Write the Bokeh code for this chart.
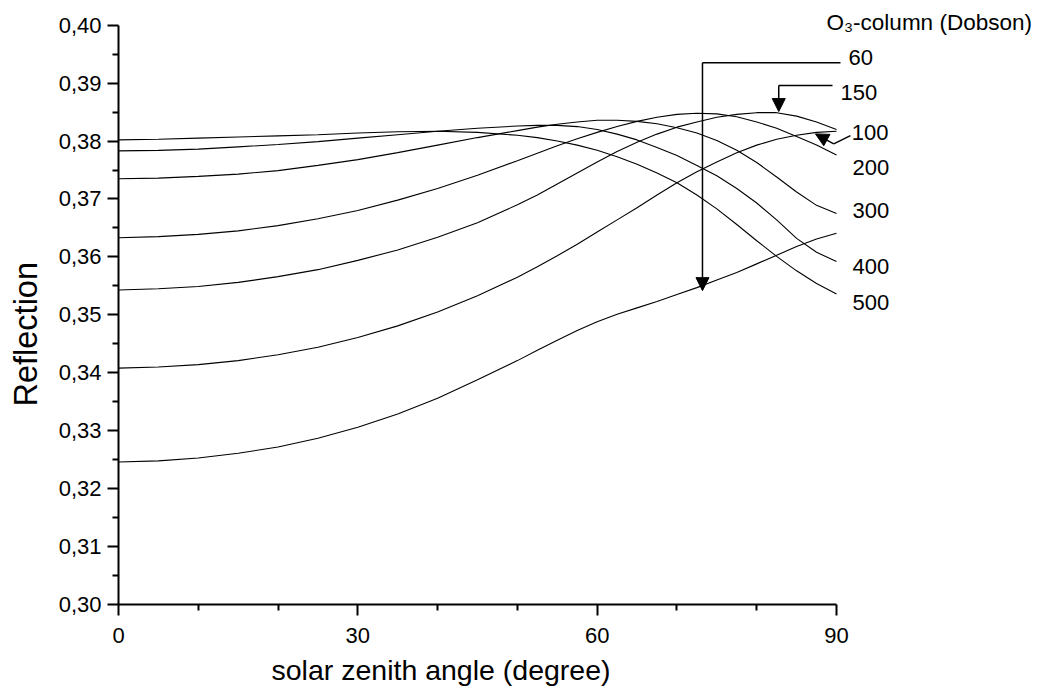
from bokeh.plotting import figure
from bokeh.models import (Range1d, FixedTicker, CustomJSTickFormatter, Label,
                          Arrow, NormalHead, Title)
from bokeh.embed import file_html
from bokeh.resources import INLINE

# ---------------- data ----------------
angles = [0, 5, 10, 15, 20, 25, 30, 35, 40, 45,
          50, 52.5, 55, 57.5, 60, 62.5, 65, 67.5, 70, 72.5, 75, 77.5, 80, 82.5, 85, 87.5, 90]

refl_60 = [0.3246, 0.3248, 0.3253, 0.3261, 0.3272, 0.3287, 0.3306, 0.3329, 0.3356, 0.3388,
           0.3421, 0.3439, 0.3456, 0.3473, 0.3488, 0.3501, 0.3512, 0.3523, 0.3535, 0.3547,
           0.3560, 0.3573, 0.3588, 0.3603, 0.3618, 0.3631, 0.3641]
refl_100 = [0.3408, 0.3410, 0.3414, 0.3421, 0.3431, 0.3444, 0.3461, 0.3481, 0.3505, 0.3533,
            0.3565, 0.3583, 0.3602, 0.3622, 0.3643, 0.3664, 0.3685, 0.3707, 0.3728, 0.3747,
            0.3764, 0.3780, 0.3793, 0.3803, 0.3810, 0.3815, 0.3817]
refl_150 = [0.3543, 0.3545, 0.3549, 0.3556, 0.3566, 0.3578, 0.3594, 0.3612, 0.3634, 0.3659,
            0.3690, 0.3707, 0.3726, 0.3745, 0.3764, 0.3782, 0.3798, 0.3812, 0.3824, 0.3833,
            0.3841, 0.3846, 0.3849, 0.3849, 0.3843, 0.3833, 0.3820]
refl_200 = [0.3633, 0.3635, 0.3639, 0.3645, 0.3654, 0.3666, 0.3680, 0.3698, 0.3718, 0.3741,
            0.3766, 0.3779, 0.3792, 0.3804, 0.3815, 0.3825, 0.3834, 0.3841, 0.3846, 0.3848,
            0.3847, 0.3842, 0.3833, 0.3822, 0.3808, 0.3793, 0.3776]
refl_300 = [0.3735, 0.3736, 0.3739, 0.3743, 0.3749, 0.3758, 0.3768, 0.3780, 0.3793, 0.3806,
            0.3818, 0.3824, 0.3829, 0.3833, 0.3836, 0.3836, 0.3834, 0.3830, 0.3823, 0.3814,
            0.3801, 0.3784, 0.3763, 0.3738, 0.3712, 0.3689, 0.3675]
refl_400 = [0.3783, 0.3784, 0.3786, 0.3790, 0.3794, 0.3799, 0.3805, 0.3811, 0.3817, 0.3822,
            0.3826, 0.3827, 0.3827, 0.3825, 0.3820, 0.3812, 0.3802, 0.3789, 0.3775, 0.3758,
            0.3740, 0.3718, 0.3693, 0.3664, 0.3632, 0.3608, 0.3592]
refl_500 = [0.3802, 0.3803, 0.3805, 0.3807, 0.3809, 0.3811, 0.3814, 0.3816, 0.3817, 0.3815,
            0.3810, 0.3806, 0.3800, 0.3793, 0.3784, 0.3773, 0.3760, 0.3745, 0.3728, 0.3707,
            0.3683, 0.3656, 0.3628, 0.3601, 0.3576, 0.3554, 0.3536]

series = [refl_60, refl_100, refl_150, refl_200, refl_300, refl_400, refl_500]

x_ticks = [0, 30, 60, 90]
x_minor = [10, 20, 40, 50, 70, 80]
y_ticks = [0.30, 0.31, 0.32, 0.33, 0.34, 0.35, 0.36, 0.37, 0.38, 0.39, 0.40]
y_minor = [0.305, 0.315, 0.325, 0.335, 0.345, 0.355, 0.365, 0.375, 0.385, 0.395]

# curve labels (text, angle position, reflection position)
label_texts = ["60", "150", "100", "200", "300", "400", "500"]
label_x = [91.5, 90.5, 91.9, 92.0, 92.0, 92.0, 92.0]
label_y = [0.3944, 0.3884, 0.3815, 0.3754, 0.3680, 0.3583, 0.3521]
legend_title = "O\u2083-column (Dobson)"
legend_title_x = 88.74
legend_title_y = 0.4005

# leader lines: each a polyline, last segment carries the arrow head
arrow_60_x = [90.5, 73.2, 73.2]
arrow_60_y = [0.39351, 0.39351, 0.35418]
arrow_150_x = [89.5, 82.76, 82.76]
arrow_150_y = [0.38959, 0.38959, 0.38509]
arrow_100_x = [91.75, 89.65, 87.36]
arrow_100_y = [0.38095, 0.37952, 0.38124]
arrows = [(arrow_60_x, arrow_60_y), (arrow_150_x, arrow_150_y), (arrow_100_x, arrow_100_y)]

FONT = "Liberation Sans"

# the frame spans the free space right of / above the axes so the annotations are not clipped;
# the axes themselves are bounded to 0..90 and 0.30..0.40
x_end = 90 * (1040 - 118) / (836 - 118)
y_end = 0.30 + 0.10 * 604 / 579.3

p = figure(width=1040, height=698, x_range=Range1d(0, x_end), y_range=Range1d(0.30, y_end),
           output_backend="svg", toolbar_location=None,
           min_border_left=118, min_border_right=0, min_border_top=0, min_border_bottom=94)
p.outline_line_color = None
p.xgrid.visible = False
p.ygrid.visible = False
p.background_fill_color = "white"
p.border_fill_color = "white"

for s in series:
    p.line(angles, s, line_color="black", line_width=1.1)

for xs, ys in arrows:
    for i in range(len(xs) - 1):
        last = i == len(xs) - 2
        head = NormalHead(size=13, fill_color="black", line_color="black", line_width=1) if last else None
        p.add_layout(Arrow(x_start=xs[i], y_start=ys[i], x_end=xs[i + 1], y_end=ys[i + 1],
                           end=head, line_color="black", line_width=1.5))

for t, x, y in zip(label_texts, label_x, label_y):
    p.add_layout(Label(x=x, y=y, text=t, text_font=FONT, text_font_size="22px",
                       text_baseline="middle", text_align="left", text_color="black"))

p.add_layout(Label(x=legend_title_x, y=legend_title_y, text=legend_title, text_font=FONT,
                   text_font_size="22.5px", text_baseline="middle", text_align="left",
                   text_color="black"))

# axes
p.xaxis.ticker = FixedTicker(ticks=x_ticks, minor_ticks=x_minor)
p.yaxis.ticker = FixedTicker(ticks=y_ticks, minor_ticks=y_minor)
p.xaxis.bounds = (0, 90)
p.yaxis.bounds = (0.30, 0.40)
p.yaxis.formatter = CustomJSTickFormatter(code="return tick.toFixed(2).replace('.', ',');")

for ax in (p.xaxis, p.yaxis):
    ax.axis_line_width = 2
    ax.axis_line_color = "black"
    ax.major_tick_line_width = 2
    ax.minor_tick_line_width = 2
    ax.major_tick_line_color = "black"
    ax.minor_tick_line_color = "black"
    ax.major_tick_out = 11
    ax.major_tick_in = 0
    ax.minor_tick_out = 6
    ax.minor_tick_in = 0
    ax.major_label_text_font = FONT
    ax.major_label_text_font_size = "22px"
    ax.major_label_text_color = "black"

p.yaxis.major_label_standoff = 6
p.xaxis.major_label_standoff = 12

# axis titles placed along the bounded axes
p.add_layout(Title(text="solar zenith angle (degree)", align="left", offset=153,
                   text_font=FONT, text_font_size="28.5px", text_font_style="normal",
                   text_color="black", standoff=12), "below")
# small gap between the tick labels and the vertical title
p.add_layout(Title(text=" ", text_font_size="1px", standoff=2), "left")
p.add_layout(Title(text="Reflection", align="left", offset=198, vertical_align="top",
                   text_font=FONT, text_font_size="32.5px", text_font_style="normal",
                   text_color="black", standoff=10), "left")

open("out.html", "w").write(file_html(p, INLINE))
